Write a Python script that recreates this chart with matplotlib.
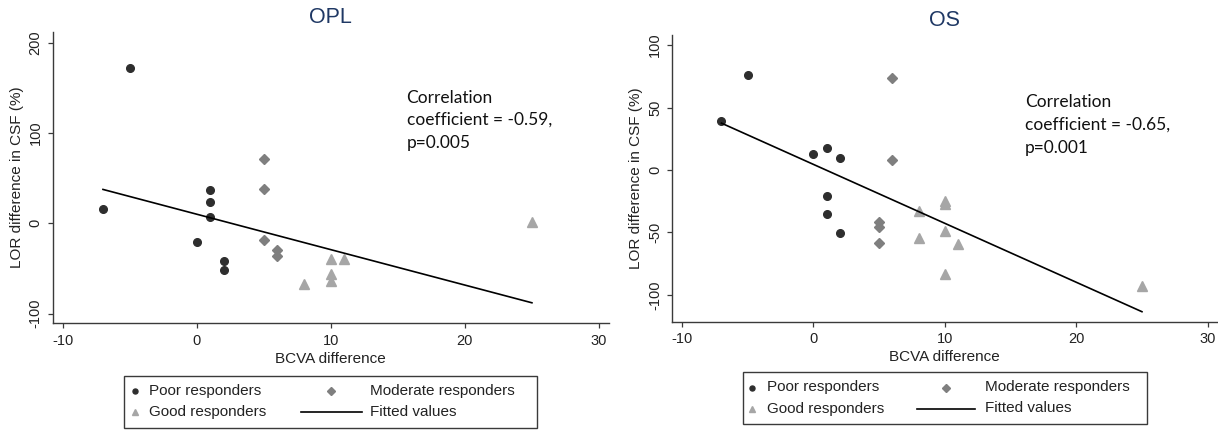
import matplotlib
matplotlib.use("Agg")
import matplotlib.pyplot as plt
from matplotlib.lines import Line2D
from matplotlib.patches import Rectangle

# ---------------- data ----------------
x_ticks = [-10, 0, 10, 20, 30]
opl_yticks = [-100, 0, 100, 200]
os_yticks = [-100, -50, 0, 50, 100]

opl_poor_x = [-7, -5, 1, 1, 1, 0, 2, 2]
opl_poor_y = [16, 172, 36.5, 24, 6.5, -21, -42, -52]
opl_mod_x = [5, 5, 5, 6, 6]
opl_mod_y = [71, 38, -18.5, -30, -36]
opl_good_x = [8, 10, 11, 10, 10, 25]
opl_good_y = [-67, -39, -39, -56, -64, 1.5]
opl_fit_x = [-7, 25]
opl_fit_y = [37.5, -88]

os_poor_x = [-7, -5, 0, 1, 2, 1, 1, 2]
os_poor_y = [39.5, 76, 13, 17.5, 9.5, -21, -35, -50.5]
os_mod_x = [6, 6, 5, 5, 5]
os_mod_y = [74, 8, -41.5, -46, -58.5]
os_good_x = [8, 8, 10, 10, 10, 11, 10, 25]
os_good_y = [-33, -54.5, -24.5, -27.5, -48.5, -59, -83, -93]
os_fit_x = [-7, 25]
os_fit_y = [37.5, -113.5]

titles = ["OPL", "OS"]
opl_note = ["Correlation", "coefficient = -0.59,", "p=0.005"]
os_note = ["Correlation", "coefficient = -0.65,", "p=0.001"]
legend_labels = ["Poor responders", "Good responders", "Moderate responders", "Fitted values"]
x_label = "BCVA difference"
y_label = "LOR difference in CSF (%)"

# ---------------- style ----------------
W, H = 1218, 430
FONT = "Liberation Sans"
NOTE_FONT = "Lato"
C_POOR = "#2e2e2e"
C_MOD = "#7f7f7f"
C_GOOD = "#a6a6a6"
C_AX = "#3a3a3a"
C_TITLE = "#1f3864"

plt.rcParams["font.family"] = [FONT, "DejaVu Sans"]
plt.rcParams["axes.unicode_minus"] = False

fig = plt.figure(figsize=(W / 100, H / 100), dpi=100)


def fx(px):
    return px / W


def fy(py):
    return 1 - py / H


panels = [
    dict(rect=(52.7, 31.7, 609.0, 323.3), ylim=(-110.7, 212.1), yticks=opl_yticks,
         poor=(opl_poor_x, opl_poor_y), mod=(opl_mod_x, opl_mod_y),
         good=(opl_good_x, opl_good_y), fit=(opl_fit_x, opl_fit_y),
         title=titles[0], note=opl_note, note_x=406.6, note_y=[102.9, 125.0, 147.8],
         legend=dict(box=(124.3, 375.5, 537.0, 427.5), rows=(391.0, 412.0),
                     m1=135.0, t1=149.3, l2=(300.7, 361.7), t2=370.0)),
    dict(rect=(672.2, 35.0, 1217.5, 321.7), ylim=(-121.5, 108.1), yticks=os_yticks,
         poor=(os_poor_x, os_poor_y), mod=(os_mod_x, os_mod_y),
         good=(os_good_x, os_good_y), fit=(os_fit_x, os_fit_y),
         title=titles[1], note=os_note, note_x=1024.9, note_y=[106.9, 130.0, 152.8],
         legend=dict(box=(742.7, 372.0, 1146.5, 424.0), rows=(387.5, 408.5),
                     m1=751.8, t1=767.3, l2=(917.0, 975.2), t2=985.0)),
]

for p in panels:
    x0, y0, x1, y1 = p["rect"]
    ax = fig.add_axes([fx(x0), fy(y1), (x1 - x0) / W, (y1 - y0) / H])
    ax.set_xlim(-10.75, 30.75)
    ax.set_ylim(*p["ylim"])

    ax.plot(*p["poor"], linestyle="none", marker="o", ms=5.5, color=C_POOR, mec=C_POOR, zorder=3)
    ax.plot(*p["mod"], linestyle="none", marker="D", ms=4.7, color=C_MOD, mec=C_MOD, zorder=3)
    ax.plot(*p["good"], linestyle="none", marker="^", ms=6.6, color=C_GOOD, mec=C_GOOD, zorder=3)
    ax.plot(*p["fit"], color="black", lw=1.2, zorder=4)

    for s in ("top", "right"):
        ax.spines[s].set_visible(False)
    for s in ("left", "bottom"):
        ax.spines[s].set_color(C_AX)
        ax.spines[s].set_linewidth(1.0)

    ax.set_xticks(x_ticks)
    ax.set_yticks(p["yticks"])
    ax.tick_params(axis="both", direction="out", length=3.6, width=0.9, color=C_AX,
                   labelsize=10.5, labelcolor="#222222")
    ax.tick_params(axis="x", pad=4.0)
    ax.tick_params(axis="y", pad=3.7)
    for lab in ax.get_yticklabels():
        lab.set_rotation(90)
        lab.set_va("center")

    axh = y1 - y0
    axw = x1 - x0
    ax.set_xlabel(x_label, fontsize=11, color="#222222", va="center")
    ax.xaxis.set_label_coords(0.5, -(35.5 / axh))
    ax.set_ylabel(y_label, fontsize=11, color="#222222", va="center")
    ax.yaxis.set_label_coords(-(36.0 / axw), 0.5)

    ax.text(0.5, 1 + 14.4 / axh, p["title"], transform=ax.transAxes, ha="center",
            va="center", fontsize=15.5, color=C_TITLE)

    for line, ny in zip(p["note"], p["note_y"]):
        fig.text(fx(p["note_x"]), fy(ny), line, ha="left", va="baseline",
                 fontsize=12.5, family=NOTE_FONT, color="#111111")

    # legend box drawn in figure pixel layout
    L = p["legend"]
    bx0, by0, bx1, by1 = L["box"]
    fig.add_artist(Rectangle((fx(bx0), fy(by1)), (bx1 - bx0) / W, (by1 - by0) / H,
                             transform=fig.transFigure, fill=False, ec=C_AX, lw=1.0))
    r1, r2 = L["rows"]
    fig.add_artist(Line2D([fx(L["m1"])], [fy(r1)], transform=fig.transFigure,
                          marker="o", ms=3.6, color=C_POOR, linestyle="none"))
    fig.add_artist(Line2D([fx(L["m1"])], [fy(r2)], transform=fig.transFigure,
                          marker="^", ms=4.4, color=C_GOOD, linestyle="none"))
    mx2 = (L["l2"][0] + L["l2"][1]) / 2
    fig.add_artist(Line2D([fx(mx2)], [fy(r1)], transform=fig.transFigure,
                          marker="D", ms=3.6, color=C_MOD, linestyle="none"))
    fig.add_artist(Line2D([fx(L["l2"][0]), fx(L["l2"][1])], [fy(r2), fy(r2)],
                          transform=fig.transFigure, color="black", lw=1.2))
    for tx, ty, lab in [(L["t1"], r1, legend_labels[0]), (L["t1"], r2, legend_labels[1]),
                        (L["t2"], r1, legend_labels[2]), (L["t2"], r2, legend_labels[3])]:
        fig.text(fx(tx), fy(ty), lab, ha="left", va="center", fontsize=11, color="#222222")

fig.savefig("out.png", dpi=100)
